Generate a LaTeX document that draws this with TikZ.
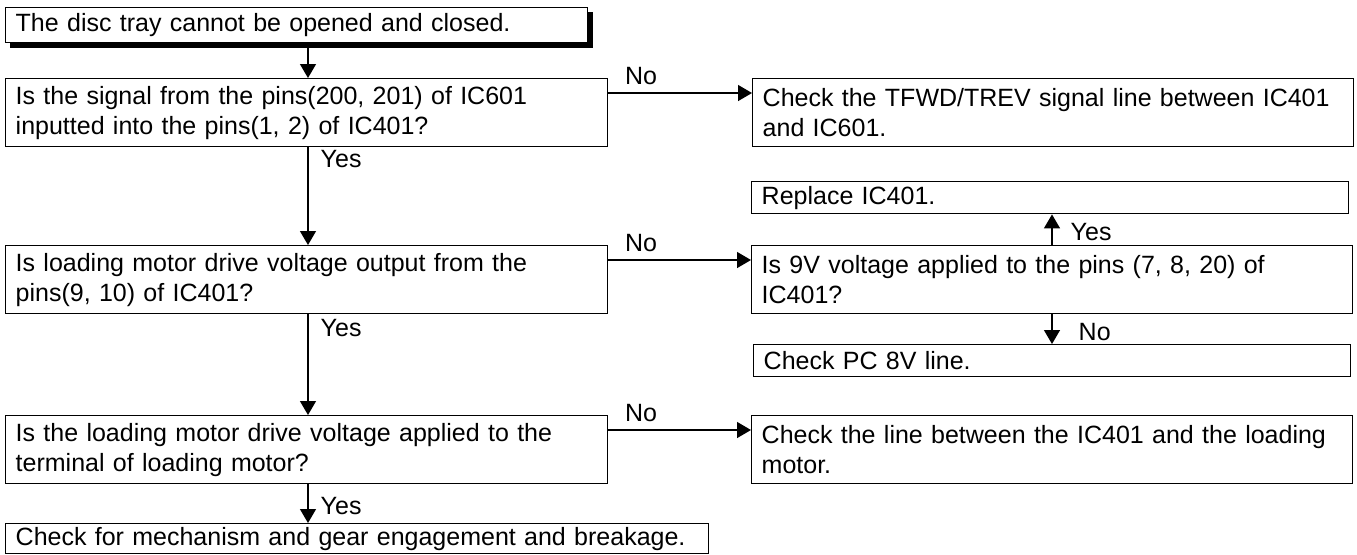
\documentclass[tikz,border=0pt]{standalone}
\usepackage{fontspec}
\setmainfont{Liberation Sans}
\usepackage{tikz}
\usetikzlibrary{arrows.meta, positioning}

\begin{document}
\begin{tikzpicture}[
    x=0.5pt, y=-0.5pt,
    box/.style={draw, line width=0.7pt, anchor=north west, align=left, inner xsep=5pt, inner ysep=0pt, font=\fontsize{12.5}{15}\selectfont},
    lbl/.style={inner sep=1pt, font=\fontsize{12.5}{15}\selectfont},
    arrow/.style={-{Triangle[length=7pt, width=8pt]}, line width=0.7pt}
]
\useasboundingbox (0,0) rectangle (1357,554);
\coordinate (lc) at (308,0);
\coordinate (rc) at (1052,0);

\node (start) [box, text width=281pt, minimum height=17.5pt] at (5,7) {The disc tray cannot be opened and closed.};
\node (q1) [box, text width=291pt, minimum height=34pt] at (5,78) {Is the signal from the pins(200, 201) of IC601\\inputted into the pins(1, 2) of IC401?};
\node (r1) [box, text width=290.5pt, minimum height=34pt] at (752,78) {Check the TFWD/TREV signal line between IC401\\and IC601.};
\node (rep) [box, text width=288.5pt, minimum height=16pt] at (751,181) {Replace IC401.};
\node (q2) [box, text width=291pt, minimum height=34pt] at (5,245) {Is loading motor drive voltage output from the\\pins(9, 10) of IC401?};
\node (r2) [box, text width=290.5pt, minimum height=34pt] at (751,245) {Is 9V voltage applied to the pins (7, 8, 20) of\\IC401?};
\node (pc) [box, text width=288.5pt, minimum height=16pt] at (753,344) {Check PC 8V line.};
\node (q3) [box, text width=291pt, minimum height=34pt] at (5,415) {Is the loading motor drive voltage applied to the\\terminal of loading motor?};
\node (r3) [box, text width=290.5pt, minimum height=34pt] at (751,415) {Check the line between the IC401 and the loading\\motor.};
\node (fin) [box, text width=341.5pt, minimum height=15pt] at (5,523) {Check for mechanism and gear engagement and breakage.};

\fill ([xshift=2.5pt]start.south west) rectangle ([xshift=2.5pt, yshift=-2.5pt]start.south east);
\fill ([yshift=-2.5pt]start.north east) rectangle ([xshift=2.5pt, yshift=-2.5pt]start.south east);

\draw[arrow] (start.south -| lc) -- (q1.north -| lc);
\draw[arrow] (q1.south -| lc) -- node[lbl, pos=0.12, right, xshift=5pt] {Yes} (q2.north -| lc);
\draw[arrow] (q2.south -| lc) -- node[lbl, pos=0.14, right, xshift=5pt] {Yes} (q3.north -| lc);
\draw[arrow] (q3.south -| lc) -- node[lbl, pos=0.57, right, xshift=5pt] {Yes} (fin.north -| lc);

\draw[arrow] ([yshift=-7.5pt]q1.north east) -- node[lbl, pos=0, anchor=south west, xshift=7pt, yshift=3pt] {No} ([yshift=-7.5pt]r1.north west);
\draw[arrow] ([yshift=-7.5pt]q2.north east) -- node[lbl, pos=0, anchor=south west, xshift=7pt, yshift=3pt] {No} ([yshift=-7.5pt]r2.north west);
\draw[arrow] ([yshift=-7.5pt]q3.north east) -- node[lbl, pos=0, anchor=south west, xshift=7pt, yshift=3pt] {No} ([yshift=-7.5pt]r3.north west);

\draw[arrow] (r2.north -| rc) -- node[lbl, pos=0.44, right, xshift=8pt] {Yes} (rep.south -| rc);
\draw[arrow] (r2.south -| rc) -- node[lbl, pos=0.6, right, xshift=12pt] {No} (pc.north -| rc);
\end{tikzpicture}
\end{document}
